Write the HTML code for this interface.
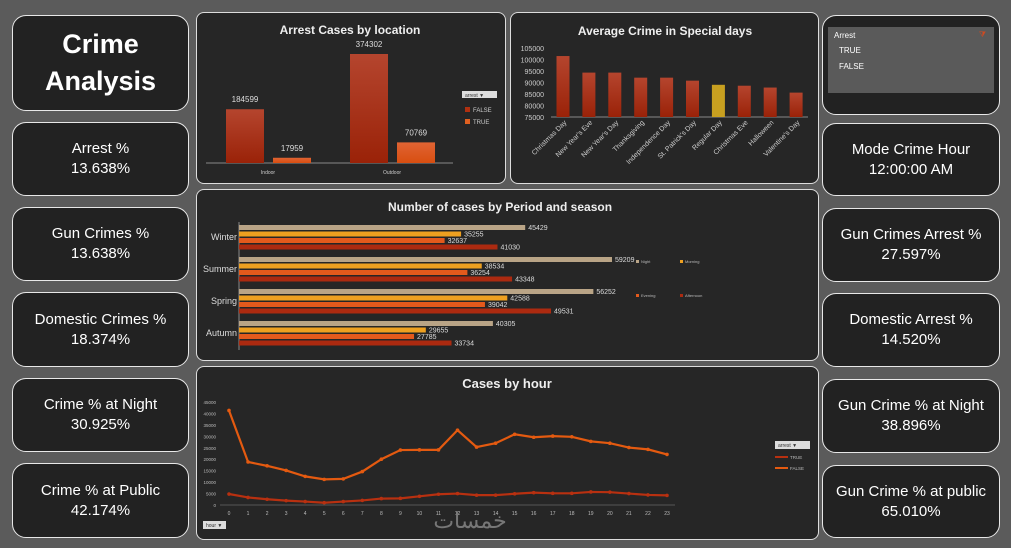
<!DOCTYPE html>
<html><head><meta charset="utf-8">
<style>
body{margin:0;width:1011px;height:548px;background:#5b5b5b;font-family:"Liberation Sans",sans-serif;position:relative;overflow:hidden}
.card{position:absolute;background:#222;border:1.5px solid #e8e8e8;border-radius:14px;box-sizing:border-box;color:#fff;text-align:center;display:flex;flex-direction:column;justify-content:center}
.k1{font-size:15px;line-height:20px}
.panel{position:absolute;background:#262626;border:1.5px solid #ddd;border-radius:8px;box-sizing:border-box}
svg text{font-family:"Liberation Sans",sans-serif}
</style></head><body>
<div class="card" style="left:12px;top:15px;width:177px;height:96px;font-weight:bold;font-size:27px;line-height:37px">Crime<br>Analysis</div>
<div class="card" style="left:12px;top:122px;width:177px;height:74px"><div class="k1">Arrest %</div><div class="k1">13.638%</div></div>
<div class="card" style="left:12px;top:207px;width:177px;height:74px"><div class="k1">Gun Crimes %</div><div class="k1">13.638%</div></div>
<div class="card" style="left:12px;top:292px;width:177px;height:75px"><div class="k1">Domestic Crimes %</div><div class="k1">18.374%</div></div>
<div class="card" style="left:12px;top:378px;width:177px;height:74px"><div class="k1">Crime % at Night</div><div class="k1">30.925%</div></div>
<div class="card" style="left:12px;top:463px;width:177px;height:75px"><div class="k1">Crime % at Public</div><div class="k1">42.174%</div></div>

<div class="card" style="left:822px;top:15px;width:178px;height:100px;justify-content:flex-start">
 <div style="margin:11px 5px 0 5px;height:66px;background:#5a5a5a;text-align:left;font-size:8px;position:relative">
  <div style="position:absolute;left:6px;top:4px">Arrest</div>
  <div style="position:absolute;right:8px;top:3px;color:#d04a20;font-size:8px">⧩</div>
  <div style="position:absolute;left:11px;top:19px;font-size:8px">TRUE</div>
  <div style="position:absolute;left:11px;top:35px;font-size:8px">FALSE</div>
 </div></div>
<div class="card" style="left:822px;top:123px;width:178px;height:73px"><div class="k1">Mode Crime Hour</div><div class="k1">12:00:00 AM</div></div>
<div class="card" style="left:822px;top:208px;width:178px;height:74px"><div class="k1">Gun Crimes Arrest %</div><div class="k1">27.597%</div></div>
<div class="card" style="left:822px;top:293px;width:178px;height:74px"><div class="k1">Domestic Arrest %</div><div class="k1">14.520%</div></div>
<div class="card" style="left:822px;top:379px;width:178px;height:74px"><div class="k1">Gun Crime % at Night</div><div class="k1">38.896%</div></div>
<div class="card" style="left:822px;top:465px;width:178px;height:73px"><div class="k1">Gun Crime % at public</div><div class="k1">65.010%</div></div>

<div class="panel" style="left:196px;top:12px;width:310px;height:172px"></div>
<div class="panel" style="left:510px;top:12px;width:309px;height:172px"></div>
<div class="panel" style="left:196px;top:189px;width:623px;height:172px"></div>
<div class="panel" style="left:196px;top:366px;width:623px;height:174px"></div>

<svg id="s" width="1011" height="548" style="position:absolute;left:0;top:0">
<defs>
<linearGradient id="gF" x1="0" y1="0" x2="0" y2="1"><stop offset="0" stop-color="#b5452e"/><stop offset="1" stop-color="#9a2208"/></linearGradient>
<linearGradient id="gT" x1="0" y1="0" x2="0" y2="1"><stop offset="0" stop-color="#e06434"/><stop offset="1" stop-color="#d84e10"/></linearGradient>
</defs>
<text x="350" y="34" fill="#eee" font-size="12" font-weight="bold" text-anchor="middle">Arrest Cases by location</text>
<text x="665" y="35" fill="#eee" font-size="12" font-weight="bold" text-anchor="middle">Average Crime in Special days</text>
<text x="500" y="211" fill="#eee" font-size="12" font-weight="bold" text-anchor="middle">Number of cases by Period and season</text>
<text x="507" y="388" fill="#eee" font-size="13" font-weight="bold" text-anchor="middle">Cases by hour</text>
<g id="g"></g>
<text x="470" y="528" fill="#777" font-size="22" text-anchor="middle">خمسات</text>
</svg>
<script>
const locCats=["Indoor","Outdoor"];
const locFalse=[184599,374302];
const locTrue=[17959,70769];
const dayCats=["Christmas Day","New Year's Eve","New Year's Day","Thanksgiving","Independence Day","St. Patrick's Day","Regular Day","Christmas Eve","Halloween","Valentine's Day"];
const dayVals=[101500,94300,94300,92100,92100,90800,89000,88600,87800,85600];
const dayTicks=[75000,80000,85000,90000,95000,100000,105000];
const seasons=["Winter","Summer","Spring","Autumn"];
const nightV=[45429,59209,56252,40305];
const morningV=[35255,38534,42588,29655];
const eveningV=[32637,36254,39042,27785];
const afternoonV=[41030,43348,49531,33734];
const hours=[0,1,2,3,4,5,6,7,8,9,10,11,12,13,14,15,16,17,18,19,20,21,22,23];
const falseHour=[41300,18800,17100,15100,12500,11200,11400,14600,20000,24000,24100,24100,32700,25300,27000,30900,29600,30100,29800,27800,27000,25100,24300,22100];
const trueHour=[4800,3300,2500,1900,1500,1000,1500,2000,2800,2900,3800,4700,5000,4300,4300,4900,5400,5100,5100,5700,5600,5000,4400,4200];
const hourTicks=[0,5000,10000,15000,20000,25000,30000,35000,40000,45000];

const NS="http://www.w3.org/2000/svg",G=document.getElementById("g");
function el(t,a,txt){const e=document.createElementNS(NS,t);for(const k in a)e.setAttribute(k,a[k]);if(txt!==undefined)e.textContent=txt;G.appendChild(e);return e;}

// Arrest chart
const ay=v=>163-v/374302*109;
el("line",{x1:206,y1:163,x2:453,y2:163,stroke:"#888"});
locCats.forEach((c,i)=>{const cx=268+i*124;
 let r=el("rect",{x:cx-42,y:ay(locFalse[i]),width:38,height:163-ay(locFalse[i]),fill:"url(#gF)"});
 
 r=el("rect",{x:cx+5,y:ay(locTrue[i]),width:38,height:163-ay(locTrue[i]),fill:"url(#gT)"});
 
 el("text",{x:cx-23,y:ay(locFalse[i])-7,fill:"#ddd","font-size":8,"text-anchor":"middle"},locFalse[i]);
 el("text",{x:cx+24,y:ay(locTrue[i])-7,fill:"#ddd","font-size":8,"text-anchor":"middle"},locTrue[i]);
 el("text",{x:cx,y:174,fill:"#ccc","font-size":5,"text-anchor":"middle"},c);
});
el("rect",{x:462,y:91,width:35,height:7,fill:"#ddd"});
el("text",{x:465,y:97,fill:"#333","font-size":5},"arrest ▼");
el("rect",{x:465,y:107,width:5,height:5,fill:"#b03010"});el("text",{x:473,y:112,fill:"#ccc","font-size":6},"FALSE");
el("rect",{x:465,y:119,width:5,height:5,fill:"#e06020"});el("text",{x:473,y:124,fill:"#ccc","font-size":6},"TRUE");

// Special days
const dy=v=>117-(v-75000)/30000*69;
el("line",{x1:551,y1:117,x2:808,y2:117,stroke:"#888"});
dayTicks.forEach(t=>el("text",{x:544,y:dy(t)+3,fill:"#ccc","font-size":7,"text-anchor":"end"},t));
dayCats.forEach((c,i)=>{const cx=563+i*25.9;
 const r=el("rect",{x:cx-6.5,y:dy(dayVals[i]),width:13,height:117-dy(dayVals[i]),fill:c==="Regular Day"?"#c8a020":"url(#gF)"});
 
 el("text",{x:cx+4,y:123,fill:"#ccc","font-size":7,"text-anchor":"end",transform:`rotate(-45 ${cx+4} 123)`},c);
});

// Period/season
const bx=v=>239+v/59209*373;
el("line",{x1:239,y1:222,x2:239,y2:350,stroke:"#888"});
const ser=[[nightV,"#b9a486","Night"],[morningV,"#eea020","Morning"],[eveningV,"#e45a1c","Evening"],[afternoonV,"#ac2a10","Afternoon"]];
seasons.forEach((s,i)=>{const top=225+i*32;
 el("text",{x:237,y:top+15,fill:"#ddd","font-size":9,"text-anchor":"end"},s);
 ser.forEach((sr,j)=>{const y=top+j*6.5;
  const r=el("rect",{x:239,y:y,width:bx(sr[0][i])-239,height:5,fill:sr[1]});
  
  el("text",{x:bx(sr[0][i])+3,y:y+5,fill:"#ddd","font-size":7},sr[0][i]);
 });
});
[[636,260],[680,260],[636,294],[680,294]].forEach((p,j)=>{el("rect",{x:p[0],y:p[1],width:3,height:3,fill:ser[j][1]});el("text",{x:p[0]+5,y:p[1]+3,fill:"#bbb","font-size":4},ser[j][2]);});

// Hour chart
const hx=h=>229+h/23*438, hy=v=>505-v/45000*103;
el("line",{x1:220,y1:505,x2:675,y2:505,stroke:"#555"});
hourTicks.forEach(t=>el("text",{x:216,y:hy(t)+2,fill:"#bbb","font-size":4.5,"text-anchor":"end"},t));
hours.forEach(h=>el("text",{x:hx(h),y:515,fill:"#bbb","font-size":5,"text-anchor":"middle"},h));
[[falseHour,"#e45a10","line-false"],[trueHour,"#b83010","line-true"]].forEach(s=>{
 const p=el("polyline",{points:hours.map((h,i)=>hx(h)+","+hy(s[0][i])).join(" "),fill:"none",stroke:s[1],"stroke-width":2.2});
 
 hours.forEach((h,i)=>el("circle",{cx:hx(h),cy:hy(s[0][i]),r:1.8,fill:s[1]}));
});
el("rect",{x:775,y:441,width:35,height:8,fill:"#ddd"});el("text",{x:778,y:447,fill:"#333","font-size":5},"arrest ▼");
el("line",{x1:775,y1:457,x2:788,y2:457,stroke:"#b83010","stroke-width":2});el("text",{x:790,y:459,fill:"#bbb","font-size":4.5},"TRUE");
el("line",{x1:775,y1:468,x2:788,y2:468,stroke:"#e45a10","stroke-width":2});el("text",{x:790,y:470,fill:"#bbb","font-size":4.5},"FALSE");
el("rect",{x:203,y:521,width:23,height:8,fill:"#ddd"});el("text",{x:206,y:527,fill:"#333","font-size":5},"hour ▼");
</script>
</body></html>
